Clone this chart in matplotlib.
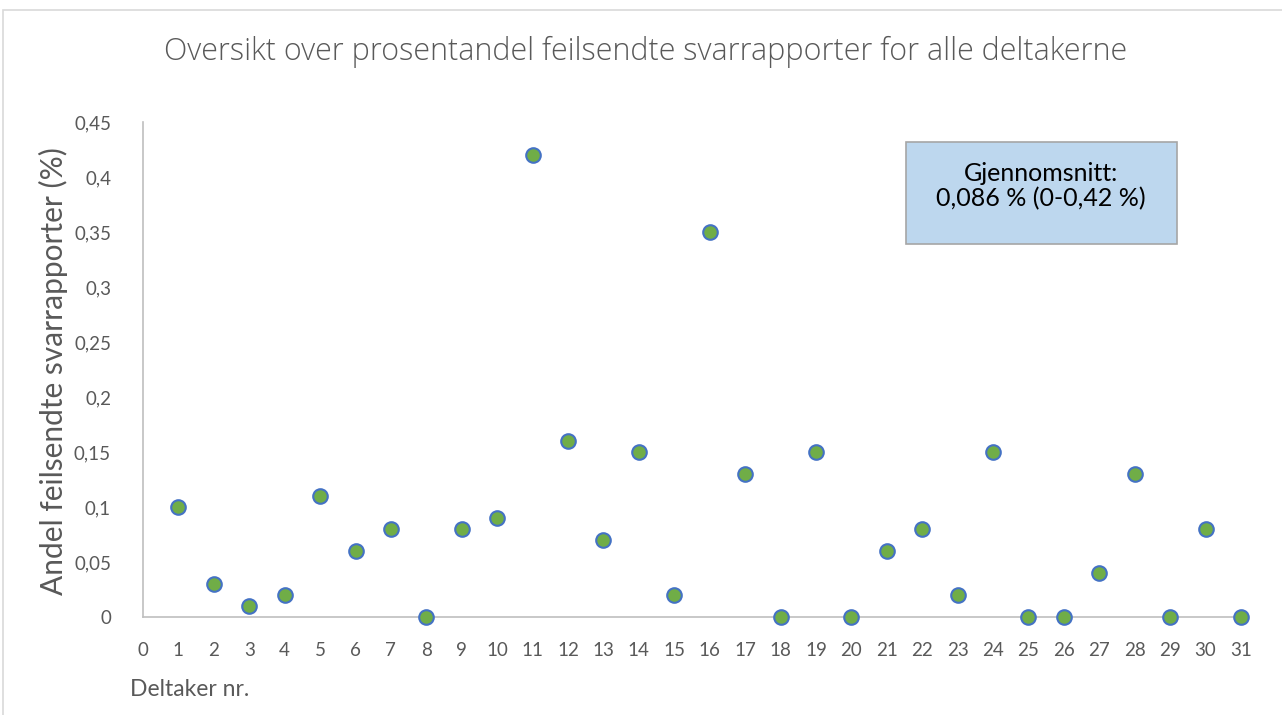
import matplotlib.pyplot as plt
from matplotlib.patches import Rectangle

deltaker = list(range(1, 32))
andel = [0.10, 0.03, 0.01, 0.02, 0.11, 0.06, 0.08, 0.00, 0.08, 0.09,
         0.42, 0.16, 0.07, 0.15, 0.02, 0.35, 0.13, 0.00, 0.15, 0.00,
         0.06, 0.08, 0.02, 0.15, 0.00, 0.00, 0.04, 0.13, 0.00, 0.08, 0.00]
yticks = [0, 0.05, 0.1, 0.15, 0.2, 0.25, 0.3, 0.35, 0.4, 0.45]
ylabels = ["0", "0,05", "0,1", "0,15", "0,2", "0,25", "0,3", "0,35", "0,4", "0,45"]

plt.rcParams['font.family'] = ['Lato', 'DejaVu Sans']
grey = "#595959"

fig = plt.figure(figsize=(12.82, 7.15), dpi=100)
# outer chart border
fig.patches.append(Rectangle((3/1282, -0.01), 1.0, 1 - 10/715 + 0.01,
                             transform=fig.transFigure, fill=False,
                             edgecolor="#D9D9D9", linewidth=1.2))

ax = fig.add_axes([143/1282, 1 - 617/715, (1241 - 143)/1282, (617 - 122)/715])
ax.scatter(deltaker, andel, s=110, color="#70AD47", edgecolor="#4472C4",
           linewidth=1.5, zorder=3, clip_on=False)

ax.set_xlim(0, 31)
ax.set_ylim(0, 0.45)
ax.set_xticks(range(0, 32))
ax.set_yticks(yticks)
ax.set_yticklabels(ylabels)
ax.tick_params(length=0, labelsize=13.5, colors=grey)
ax.tick_params(axis="x", pad=18)
ax.tick_params(axis="y", pad=23)
for s in ["top", "right"]:
    ax.spines[s].set_visible(False)
for s in ["left", "bottom"]:
    ax.spines[s].set_color("#BFBFBF")
    ax.spines[s].set_linewidth(1.2)

fig.text(53/1282, 1 - 371/715, "Andel feilsendte svarrapporter (%)", fontsize=21.5,
         color=grey, rotation=90, ha="center", va="center")
fig.text(130/1282, 1 - 690/715, "Deltaker nr.", fontsize=16.5, color=grey, va="center", ha="left")
fig.text(646/1282, 1 - 52/715, "Oversikt over prosentandel feilsendte svarrapporter for alle deltakerne",
         fontsize=22, color=grey, ha="center", va="center",
         family=["Open Sans", "DejaVu Sans"], fontweight="light")

# text box
fig.patches.append(Rectangle((906/1282, 1 - 244/715), (1177 - 906)/1282, (244 - 142)/715,
                             transform=fig.transFigure, facecolor="#BDD7EE",
                             edgecolor="#A6A6A6", linewidth=1.2))
fig.text(1041/1282, 1 - 186/715, "Gjennomsnitt:\n0,086 % (0-0,42 %)", fontsize=18,
         ha="center", va="center", color="black", linespacing=1.1)

fig.savefig("out.png", dpi=100)
